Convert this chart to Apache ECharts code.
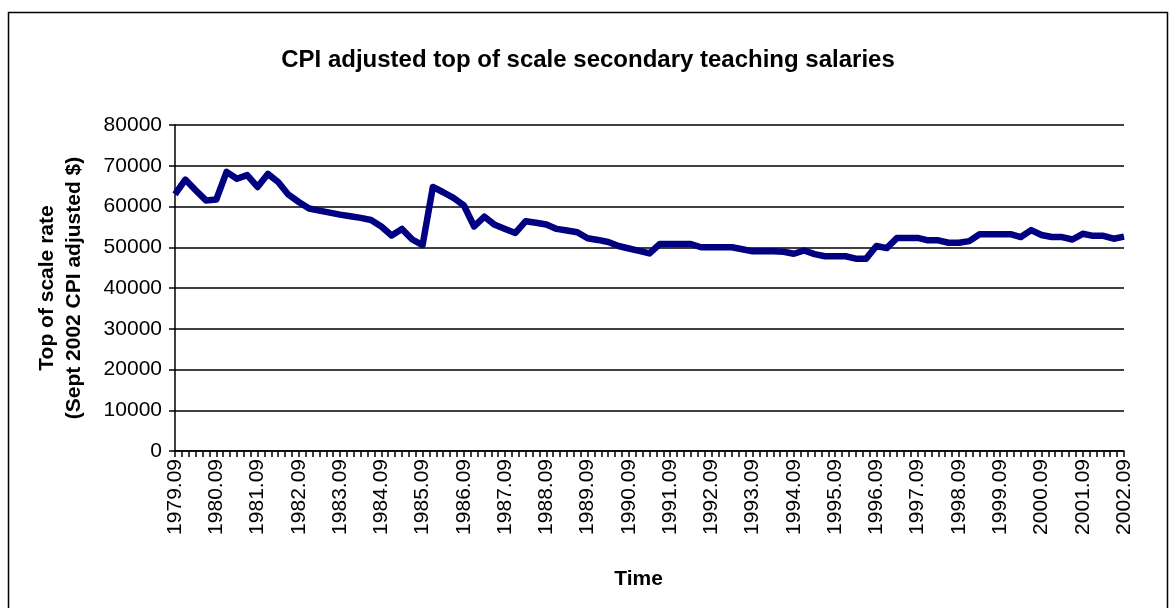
<!DOCTYPE html>
<html>
<head>
<meta charset="utf-8">
<title>CPI adjusted teaching salaries</title>
<script src="https://cdn.jsdelivr.net/npm/echarts@6/dist/echarts.min.js"></script>
<style>
    html, body { margin: 0; padding: 0; background: #fff; }
    #chart { width: 1176px; height: 608px; }
</style>
</head>
<body>
<div id="chart"></div>
<script>
// quarterly readings, 1979.09 .. 2002.09
var salary = [
    63000, 66600, 64000, 61500, 61700, 68500, 66800, 67700, 64800, 68000,
    66000, 62900, 61100, 59500, 59000, 58500, 58000, 57600, 57200, 56700,
    55100, 52900, 54500, 51900, 50500, 64800, 63500, 62100, 60300, 55100,
    57500, 55500, 54500, 53500, 56400, 56000, 55600, 54500, 54100, 53700,
    52200, 51800, 51300, 50300, 49700, 49100, 48500, 50800, 50800, 50800,
    50800, 50000, 50000, 50000, 50000, 49500, 49000, 49000, 49000, 48900,
    48400, 49200, 48300, 47800, 47800, 47800, 47200, 47200, 50300, 49800,
    52300, 52300, 52300, 51700, 51700, 51100, 51100, 51500, 53200, 53200,
    53200, 53200, 52500, 54200, 53000, 52500, 52500, 51900, 53300, 52800,
    52800, 52100, 52600
];
var yTicks = [0, 10000, 20000, 30000, 40000, 50000, 60000, 70000, 80000];

// monthly category labels "YYYY.MM" (axis runs by month, ticks every 2 months)
var months = [];
for (var y = 1979, m = 9; y < 2002 || (y == 2002 && m <= 9); ) {
    months.push(y + '.' + (m < 10 ? '0' + m : m));
    m++;
    if (m > 12) { m = 1; y++; }
}
// one point every 3rd month
var quarters = months.filter(function (d, i) { return i % 3 == 0; });

var myChart = echarts.init(document.getElementById('chart'));
var font = 'Liberation Sans, Arial, sans-serif';

myChart.setOption({
    animation: false,
    backgroundColor: '#fff',
    title: {
        text: 'CPI adjusted top of scale secondary teaching salaries',
        left: 'center',
        top: 43,
        textStyle: { fontFamily: font, fontSize: 24, fontWeight: 'bold', color: '#000' }
    },
    graphic: [{ // outer frame
        type: 'rect',
        shape: { x: 8.5, y: 12.5, width: 1159, height: 620 },
        style: { fill: 'none', stroke: '#000', lineWidth: 1.5 },
        silent: true
    }],
    grid: { left: 175, right: 52, top: 125, bottom: 157 },
    xAxis: {
        type: 'category',
        data: months,
        boundaryGap: false,
        name: 'Time',
        nameLocation: 'middle',
        nameGap: 118,
        nameTextStyle: { fontFamily: font, fontSize: 21, fontWeight: 'bold', color: '#000', padding: [0, 22, 0, 0] },
        axisLine: { lineStyle: { color: '#000', width: 1.5 } },
        axisTick: { interval: 1, length: 6, lineStyle: { color: '#000', width: 1.5 } },
        axisLabel: {
            interval: 11,
            rotate: 90,
            margin: 8,
            fontFamily: font,
            fontSize: 21,
            color: '#000'
        },
        splitLine: { show: false }
    },
    yAxis: {
        type: 'value',
        min: 0,
        max: 80000,
        interval: 10000,
        name: 'Top of scale rate\n(Sept 2002 CPI adjusted $)',
        nameLocation: 'middle',
        nameRotate: 90,
        nameGap: 87,
        nameTextStyle: { fontFamily: font, fontSize: 21, fontWeight: 'bold', color: '#000', lineHeight: 27 },
        axisLine: { show: true, lineStyle: { color: '#000', width: 1.5 } },
        axisTick: { show: true, length: 6, lineStyle: { color: '#000', width: 1.5 } },
        axisLabel: {
            margin: 13,
            fontFamily: font,
            fontSize: 21,
            color: '#000',
            formatter: function (v) { return yTicks.indexOf(v) >= 0 ? String(v) : ''; }
        },
        splitLine: { lineStyle: { color: '#000', width: 1.5 } }
    },
    series: [{
        type: 'line',
        data: quarters.map(function (q, i) { return [q, salary[i]]; }),
        showSymbol: false,
        lineStyle: { color: '#000080', width: 6.5, join: 'round' },
        itemStyle: { color: '#000080' }
    }]
});
</script>
</body>
</html>
